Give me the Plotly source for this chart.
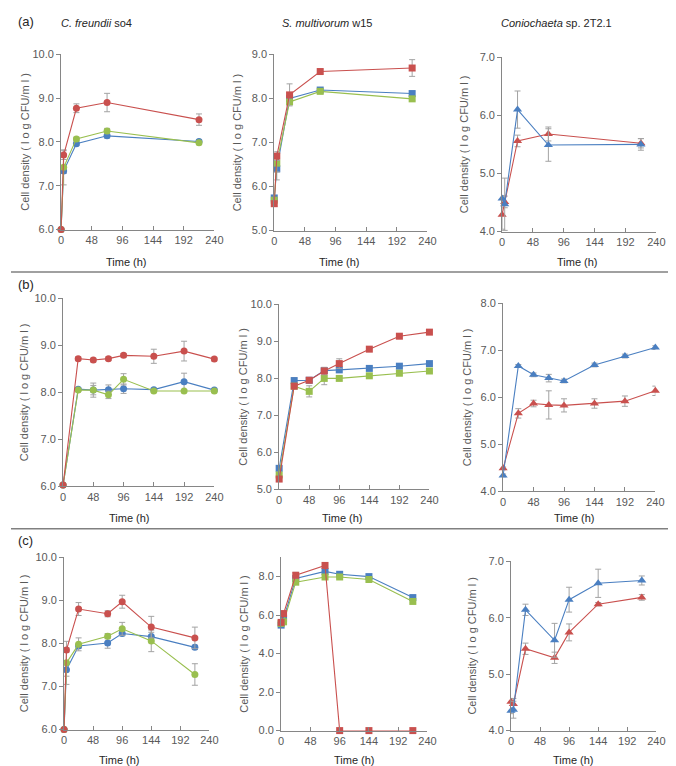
import plotly.graph_objects as go

W, H = 676, 766

# ---------------- data ----------------
t_a = [0, 4, 24, 72, 216]
t_b = [0, 24, 48, 72, 96, 144, 192, 240]
t_c = [0, 4, 24, 72, 96, 144, 216]

# (a) C. freundii so4
a1_red = [6.0, 7.70, 8.77, 8.90, 8.51]
a1_red_err = [0, 0.10, 0.10, 0.21, 0.13]
a1_blue = [6.0, 7.34, 7.96, 8.14, 8.01]
a1_blue_err = [0, 0.06, 0.04, 0.05, 0.04]
a1_green = [6.0, 7.42, 8.07, 8.25, 7.98]
a1_green_err = [0, 0.40, 0.04, 0.06, 0.04]

# (a) S. multivorum w15
a2_red = [5.61, 6.69, 8.08, 8.61, 8.69]
a2_red_err = [0.06, 0.10, 0.25, 0.04, 0.19]
a2_blue = [5.74, 6.40, 8.00, 8.19, 8.11]
a2_blue_err = [0.05, 0.25, 0.05, 0.04, 0.04]
a2_green = [5.69, 6.53, 7.92, 8.16, 7.99]
a2_green_err = [0.05, 0.20, 0.05, 0.04, 0.04]

# (a) Coniochaeta sp. 2T2.1
a3_red = [4.29, 4.51, 5.56, 5.68, 5.52]
a3_red_err = [0.25, 0.10, 0.10, 0.12, 0.08]
a3_blue = [4.57, 4.47, 6.10, 5.49, 5.50]
a3_blue_err = [0.05, 0.45, 0.32, 0.28, 0.10]

# (b) C. freundii so4
b1_red = [6.03, 8.72, 8.69, 8.72, 8.79, 8.77, 8.88, 8.71]
b1_red_err = [0, 0.04, 0.04, 0.04, 0.04, 0.15, 0.21, 0.04]
b1_blue = [6.03, 8.07, 8.05, 8.06, 8.08, 8.06, 8.23, 8.05]
b1_blue_err = [0, 0.03, 0.15, 0.10, 0.10, 0.03, 0.18, 0.03]
b1_green = [6.03, 8.05, 8.05, 7.95, 8.28, 8.03, 8.03, 8.03]
b1_green_err = [0, 0.03, 0.10, 0.08, 0.12, 0.03, 0.03, 0.03]

# (b) S. multivorum w15
b2_red = [5.28, 7.79, 7.95, 8.20, 8.40, 8.79, 9.14, 9.25]
b2_red_err = [0.05, 0.05, 0.05, 0.10, 0.13, 0.05, 0.05, 0.05]
b2_blue = [5.57, 7.94, 7.95, 8.21, 8.23, 8.27, 8.33, 8.40]
b2_blue_err = [0.05, 0.08, 0.05, 0.05, 0.05, 0.05, 0.05, 0.05]
b2_green = [5.39, 7.79, 7.65, 8.00, 8.00, 8.07, 8.14, 8.20]
b2_green_err = [0.05, 0.05, 0.15, 0.17, 0.05, 0.05, 0.05, 0.05]

# (b) Coniochaeta sp. 2T2.1
b3_red = [4.49, 5.66, 5.87, 5.84, 5.83, 5.87, 5.92, 6.14]
b3_red_err = [0.03, 0.10, 0.07, 0.30, 0.14, 0.10, 0.11, 0.10]
b3_blue = [4.34, 6.67, 6.48, 6.41, 6.35, 6.69, 6.88, 7.06]
b3_blue_err = [0.03, 0.03, 0.04, 0.08, 0.04, 0.04, 0.04, 0.04]

# (c) C. freundii so4
c1_red = [6.0, 7.85, 8.80, 8.69, 8.97, 8.38, 8.13]
c1_red_err = [0, 0.05, 0.15, 0.07, 0.15, 0.25, 0.25]
c1_blue = [6.0, 7.39, 7.94, 8.01, 8.23, 8.16, 7.91]
c1_blue_err = [0, 0.15, 0.05, 0.12, 0.05, 0.10, 0.05]
c1_green = [6.0, 7.55, 7.98, 8.17, 8.34, 8.06, 7.28]
c1_green_err = [0, 0.50, 0.15, 0.06, 0.15, 0.25, 0.25]

# (c) S. multivorum w15
c2_red = [5.62, 6.08, 8.07, 8.58, 0, 0, 0]
c2_red_err = [0.10, 0.10, 0.15, 0.15, 0, 0, 0]
c2_blue = [5.48, 5.82, 7.90, 8.27, 8.12, 8.00, 6.91]
c2_blue_err = [0.10, 0.10, 0.10, 0.10, 0.08, 0.08, 0.08]
c2_green = [5.57, 5.65, 7.71, 7.98, 7.98, 7.85, 6.71]
c2_green_err = [0.10, 0.10, 0.10, 0.10, 0.08, 0.08, 0.08]

# (c) Coniochaeta sp. 2T2.1
c3_red = [4.51, 4.47, 5.45, 5.29, 5.74, 6.24, 6.36]
c3_red_err = [0.05, 0.10, 0.10, 0.10, 0.15, 0.03, 0.05]
c3_blue = [4.35, 4.37, 6.14, 5.60, 6.32, 6.61, 6.66]
c3_blue_err = [0.05, 0.15, 0.10, 0.30, 0.22, 0.25, 0.08]

x_ticks = [0, 48, 96, 144, 192, 240]
titles = ["<i>C. freundii</i> so4", "<i>S. multivorum</i> w15", "<i>Coniochaeta</i> sp. 2T2.1"]
row_labels = ["(a)", "(b)", "(c)"]
y_title = "Cell density ( l o g CFU/m l )"
x_title = "Time (h)"

RED, BLUE, GREEN = "#C9504E", "#4A7FC1", "#99BF4F"
ERR = "#A3A3A3"
FONT = "Arial, Liberation Sans, sans-serif"
TXT = "#595959"

panels = [
    (t_a, [(a1_blue, a1_blue_err, BLUE), (a1_green, a1_green_err, GREEN), (a1_red, a1_red_err, RED)], "circle", [6, 10], 1),
    (t_a, [(a2_blue, a2_blue_err, BLUE), (a2_green, a2_green_err, GREEN), (a2_red, a2_red_err, RED)], "square", [5, 9], 1),
    (t_a, [(a3_red, a3_red_err, RED), (a3_blue, a3_blue_err, BLUE)], "triangle-up", [4, 7], 1),
    (t_b, [(b1_blue, b1_blue_err, BLUE), (b1_green, b1_green_err, GREEN), (b1_red, b1_red_err, RED)], "circle", [6, 10], 1),
    (t_b, [(b2_blue, b2_blue_err, BLUE), (b2_green, b2_green_err, GREEN), (b2_red, b2_red_err, RED)], "square", [5, 10], 1),
    (t_b, [(b3_red, b3_red_err, RED), (b3_blue, b3_blue_err, BLUE)], "triangle-up", [4, 8], 1),
    (t_c, [(c1_blue, c1_blue_err, BLUE), (c1_green, c1_green_err, GREEN), (c1_red, c1_red_err, RED)], "circle", [6, 10], 1),
    (t_c, [(c2_blue, c2_blue_err, BLUE), (c2_green, c2_green_err, GREEN), (c2_red, c2_red_err, RED)], "square", [0, 9], 2),
    (t_c, [(c3_red, c3_red_err, RED), (c3_blue, c3_blue_err, BLUE)], "triangle-up", [4, 7], 1),
]

boxes = [
    (51, 207, 41, 219), (268, 424, 41, 220), (500, 657, 44, 221),
    (53, 207, 289, 480), (273, 426, 295, 483), (501, 656, 294, 485),
    (54, 202, 552, 727), (275, 424, 552, 728), (509, 657, 556, 728),
]
ytitle_x = [14, 231, 462, 14, 236, 465, 14, 237, 469]
xtitle_pos = [(118, 252), (334, 252), (577, 252),
              (121, 512), (337, 512), (574, 512),
              (110, 758), (350, 758), (573, 758)]


def fx(p):
    return p / W


def fy(p):
    return 1 - p / H


fig = go.Figure()
layout = {}
annotations = []
for i, (times, series, sym, yr, dt) in enumerate(panels):
    k = "" if i == 0 else str(i + 1)
    x0, x1, yt, yb = boxes[i]
    msize = 7 if sym != "triangle-up" else 8
    for (yv, ev, col) in series:
        fig.add_trace(go.Scatter(
            x=times, y=yv, mode="lines+markers", xaxis="x" + k, yaxis="y" + k,
            line=dict(color=col, width=1.1),
            marker=dict(symbol=sym, size=msize, color=col),
            error_y=dict(type="data", array=ev, visible=True, color=ERR, thickness=1, width=3),
            cliponaxis=False, showlegend=False, hoverinfo="x+y"))
    layout["xaxis" + k] = dict(
        domain=[fx(x0), fx(x1)], anchor="y" + k, range=[0, 240],
        tickvals=x_ticks, ticks="inside", ticklen=4, tickcolor="#868686",
        showline=True, linecolor="#868686", linewidth=1, showgrid=False, zeroline=False,
        tickfont=dict(family=FONT, size=11, color=TXT), fixedrange=True)
    layout["yaxis" + k] = dict(
        domain=[fy(yb), fy(yt)], anchor="x" + k, range=yr, dtick=dt, tick0=0,
        tickformat=".1f", ticks="outside", ticklen=4, tickcolor="#868686",
        showline=True, linecolor="#868686", linewidth=1, showgrid=False, zeroline=False,
        tickfont=dict(family=FONT, size=11, color=TXT), fixedrange=True)
    annotations.append(dict(
        x=fx(ytitle_x[i]), y=fy((yt + yb) / 2), xref="paper", yref="paper",
        text=y_title, textangle=-90, showarrow=False,
        font=dict(family=FONT, size=11, color=TXT), xanchor="center", yanchor="middle"))
    tx, ty = xtitle_pos[i]
    annotations.append(dict(
        x=fx(tx), y=fy(ty), xref="paper", yref="paper", text=x_title, showarrow=False,
        font=dict(family=FONT, size=11, color="#262626"), xanchor="center", yanchor="middle"))

for tx, txt in zip([87, 322, 555], titles):
    annotations.append(dict(x=fx(tx), y=fy(9), xref="paper", yref="paper", text=txt,
                            showarrow=False, font=dict(family=FONT, size=11, color="#262626"),
                            xanchor="center", yanchor="middle"))
for ly, lab in zip([8, 275, 535], row_labels):
    annotations.append(dict(x=fx(15), y=fy(ly), xref="paper", yref="paper", text=lab,
                            showarrow=False, font=dict(family=FONT, size=13, color="#262626"),
                            xanchor="center", yanchor="middle"))

shapes = [
    dict(type="line", xref="paper", yref="paper", x0=0, x1=1, y0=fy(262), y1=fy(262),
         line=dict(color="#808080", width=1.5)),
    dict(type="line", xref="paper", yref="paper", x0=0, x1=1, y0=fy(523), y1=fy(523),
         line=dict(color="#808080", width=1.5)),
]

fig.update_layout(
    width=W, height=H, margin=dict(l=0, r=0, t=0, b=0),
    paper_bgcolor="white", plot_bgcolor="white",
    annotations=annotations, shapes=shapes, showlegend=False,
    font=dict(family=FONT), **layout)

fig.write_html("out.html")
